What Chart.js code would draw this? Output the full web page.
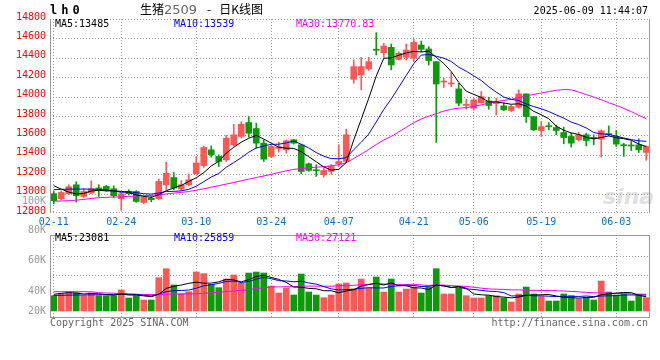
<!DOCTYPE html>
<html>
<head>
<meta charset="utf-8">
<script src="https://cdn.jsdelivr.net/npm/chart.js@4.4.1/dist/chart.umd.min.js"></script>
<style>
  html, body { margin: 0; padding: 0; background: #fff; }
  #wrap { position: relative; width: 660px; height: 360px; overflow: hidden;
          font-family: "DejaVu Sans Mono", monospace; font-size: 10px; }
  #wrap canvas { position: absolute; left: 0; }
  .t { position: absolute; white-space: nowrap; line-height: 12px; }
  .r { text-align: right; }
</style>
</head>
<body>
<div id="wrap">
  <div class="t" style="left:603px;top:184px;font:italic bold 22px 'DejaVu Sans';color:rgba(210,210,210,0.7)">sina</div>

  <canvas id="kChart" width="660" height="231" style="top:0"></canvas>
  <canvas id="volChart" width="660" height="95" style="top:225px"></canvas>

  <div class="t" style="left:50px;top:3px;font:bold 12px 'DejaVu Sans Mono';line-height:14px;letter-spacing:4px">lh0</div>
  <div class="t" style="left:140px;top:2px;font:12px 'Noto Sans CJK SC';line-height:14px">生猪<span style="color:#666;font:13px 'DejaVu Sans'">2509</span><span style="margin:0 8px 0 10px">-</span>日K线图</div>
  <div class="t r" style="right:12px;top:5px">2025-06-09 11:44:07</div>

  <div id="priceMa"></div>
  <div id="volMa"></div>
  <div id="volAxis"></div>

  <div class="t" style="left:50px;top:317px;color:#666">Copyright 2025 SINA.COM</div>
  <div class="t r" style="right:12px;top:317px;color:#666">http://finance.sina.com.cn</div>
</div>

<script>
/* ── data ─────────────────────────────────────────────────────────── */
const dates = ['02-11','02-12','02-13','02-14','02-17','02-18','02-19','02-20','02-21','02-24',
  '02-25','02-26','02-27','02-28','03-03','03-04','03-05','03-06','03-07','03-10',
  '03-11','03-12','03-13','03-14','03-17','03-18','03-19','03-20','03-21','03-24',
  '03-25','03-26','03-27','03-28','03-31','04-01','04-02','04-03','04-07','04-08',
  '04-09','04-10','04-11','04-14','04-15','04-16','04-17','04-18','04-21','04-22',
  '04-23','04-24','04-25','04-28','04-29','04-30','05-06','05-07','05-08','05-09',
  '05-12','05-13','05-14','05-15','05-16','05-19','05-20','05-21','05-22','05-23',
  '05-26','05-27','05-28','05-29','05-30','06-03','06-04','06-05','06-06','06-09'];
const shownDates = ['02-11','02-24','03-10','03-24','04-07','04-21','05-06','05-19','06-03'];

const openP = [12999,12947,12999,13091,12971,13006,13052,13074,13050,12947,
  13022,13022,12909,12955,12947,13091,13166,13047,13091,13204,
  13290,13451,13383,13348,13503,13589,13733,13671,13520,13383,
  13465,13451,13555,13503,13307,13242,13194,13228,13307,13331,
  14178,14223,14285,14483,14453,14508,14384,14405,14395,14532,
  14491,14360,14150,14130,14079,13910,13880,13938,13955,13928,
  13904,13856,13890,14028,13794,13650,13694,13681,13630,13589,
  13554,13606,13573,13561,13613,13589,13498,13495,13503,13424];
const highP = [13022,13025,13091,13122,13050,13132,13091,13085,13080,13005,
  13040,13030,12975,12970,13150,13325,13218,13135,13200,13382,
  13490,13492,13400,13600,13715,13740,13794,13726,13555,13500,
  13530,13555,13560,13510,13315,13297,13263,13300,13503,13664,
  14377,14405,14405,14659,14549,14542,14463,14542,14593,14573,
  14515,14360,14189,14247,14137,13973,13980,14052,13993,13983,
  13932,13914,14069,14028,13794,13743,13733,13705,13685,13623,
  13633,13623,13606,13657,13698,13650,13520,13537,13565,13492];
const lowP = [12893,12935,12990,12913,12960,12999,12971,13025,12960,12827,
  12985,12910,12895,12915,12940,13040,13040,13033,13080,13200,
  13270,13376,13280,13330,13490,13575,13582,13468,13331,13370,
  13427,13417,13510,13204,13230,13177,13170,13200,13280,13320,
  14137,14069,14270,14429,14405,14275,14377,14377,14360,14463,
  14326,13527,14093,14103,13904,13870,13860,13932,13870,13811,
  13856,13846,13880,13733,13650,13589,13657,13606,13513,13479,
  13540,13492,13503,13376,13595,13486,13383,13444,13424,13342];
const closeP = [12927,13012,13071,12978,13022,13050,13048,13040,12978,12999,
  12999,12919,12961,12937,13125,13210,13057,13091,13143,13315,
  13475,13400,13331,13571,13606,13715,13623,13520,13355,13486,
  13483,13544,13520,13228,13239,13236,13239,13280,13331,13606,
  14309,14309,14360,14478,14521,14326,14446,14480,14559,14487,
  14371,14130,14160,14140,13932,13918,13966,14000,13908,13935,
  13863,13897,14028,13794,13657,13691,13689,13650,13578,13520,
  13606,13547,13569,13647,13608,13510,13494,13491,13451,13486];

const ma5 = [13081,13046,13015,12997,13002,13027,13034,13028,13028,13023,
  13013,12987,12971,12963,12988,13030,13058,13084,13125,13163,
  13216,13285,13333,13418,13477,13530,13570,13600,13562,13520,
  13478,13468,13466,13432,13380,13328,13275,13242,13250,13320,
  13553,13767,13983,14212,14395,14399,14426,14450,14466,14460,
  14469,14405,14341,14258,14147,14056,14023,13991,13945,13945,
  13934,13921,13926,13903,13848,13813,13772,13696,13653,13626,
  13609,13580,13564,13578,13595,13576,13566,13550,13511,13485];
const ma10 = [13040,13044,13046,13047,13047,13046,13043,13036,13028,13013,
  13020,13010,12999,12995,13006,13022,13023,13028,13044,13076,
  13123,13171,13208,13272,13320,13370,13427,13470,13491,13508,
  13509,13523,13542,13508,13471,13423,13385,13361,13359,13371,
  13453,13530,13614,13739,13867,13976,14097,14217,14339,14428,
  14434,14416,14396,14362,14303,14262,14214,14166,14101,14046,
  13995,13972,13959,13924,13897,13874,13846,13811,13778,13737,
  13711,13676,13630,13615,13611,13592,13573,13557,13544,13539];
const ma30 = [12922,12924,12927,12932,12940,12950,12958,12961,12964,12967,
  12971,12975,12978,12982,12988,12996,13005,13012,13022,13035,
  13050,13066,13082,13098,13115,13132,13149,13166,13182,13199,
  13217,13235,13250,13258,13266,13272,13278,13286,13298,13318,
  13362,13408,13455,13506,13553,13590,13636,13683,13730,13769,
  13799,13823,13851,13870,13880,13887,13899,13915,13933,13948,
  13961,13972,13989,14008,14022,14037,14052,14065,14073,14070,
  14047,14021,13995,13967,13937,13910,13878,13845,13808,13771];

const volume = [24930,27640,31440,29270,24930,29270,24930,24930,24930,34150,
  21140,24930,17890,17890,54200,68830,42280,28180,31440,63410,
  60700,43360,37940,52030,58540,44990,61790,63410,61790,40650,
  29270,37400,26020,60160,30890,26020,21680,26020,43900,45530,
  35770,52030,37400,55280,30890,52030,30890,35770,39020,29270,
  39020,68830,27640,27640,36860,24930,21140,21140,24930,24930,
  21140,14630,27640,39020,27640,23310,16260,16260,27640,24930,
  19510,21680,17890,48780,30890,26020,27100,16260,27100,21680];
const volMa5 = [27100,28700,29800,29300,27640,28510,27970,26670,25800,27640,
  26020,26020,24610,23200,27210,36750,40220,42280,44990,46830,
  45200,45420,47370,51490,50510,47370,51060,56150,58100,54530,
  51380,46500,39030,38700,36750,36100,32950,32950,29700,32630,
  34580,40650,42930,45200,42270,45530,41300,40970,37720,37400,
  34790,42380,40760,38480,40000,37180,27640,26340,25800,23410,
  22660,21350,22650,25470,26010,26450,26770,24500,22220,21680,
  20920,22000,22330,26560,27750,29050,30140,29810,25470,23081];
const volMa10 = [25500,25500,25800,26000,26000,26200,26500,26800,27000,27640,
  27260,26990,25640,24500,27430,31380,33120,33440,34090,37020,
  40980,42820,44820,48240,48670,46290,48240,51760,54800,52520,
  49380,48780,47590,48400,45640,43740,39730,35990,34200,34690,
  35340,36800,37940,37450,37450,40050,40970,41950,41460,39840,
  40160,41840,40860,38100,38700,35990,35010,33550,32140,31710,
  29920,24500,24500,25640,24710,24550,24060,23580,23850,23850,
  23680,24390,23410,24390,24720,24990,26070,26070,26020,25859];
const volMa30 = [31400,31400,31400,31400,31400,31200,29800,29300,29000,28000,
  27600,27200,27000,26600,27000,27200,27400,27600,27800,28000,
  29000,29600,30400,31600,32600,33600,34800,36400,37800,39060,
  39210,39530,39350,40380,40580,40470,40360,40400,41030,41410,
  41900,42800,43450,44700,43920,43360,42980,43230,43490,42350,
  41630,42470,42130,41320,40600,39930,38570,37160,35930,35410,
  35140,34380,34430,33730,33620,33530,33350,33030,32480,31800,
  31250,30240,29590,29380,29380,28510,28380,27730,27340,27121];

const priceMin = 12800, priceMax = 14800, priceStep = 200;
const volMin = -11400, volMax = 123650;
const volGridValues = [58000, 90000];
const volTickLabels = ['100K', '80K', '60K', '40K', '20K'];
const priceMaText = ['MA5:13485', 'MA10:13539', 'MA30:13770.83'];
const volMaText = ['MA5:23081', 'MA10:25859', 'MA30:27121'];

/* ── styling ──────────────────────────────────────────────────────── */
const UP = '#ff5656';
const DOWN = '#0a9a0a';
const GRID = '#999';
const MA_COLORS = ['#000', '#0000ff', '#ff00ff'];

Chart.defaults.font.family = '"DejaVu Sans Mono", monospace';
Chart.defaults.font.size = 10;

const dirColor = closeP.map((c, i) => (c >= openP[i] ? UP : DOWN));
const noGrid = { display: false, drawTicks: false };

// dotted grid (1px dot every 3px) at the y ticks and the labelled dates
const dotGridPlugin = {
    id: 'dotGrid',
    beforeDatasetsDraw(chart, args, opts) {
        const { ctx, chartArea: a, scales: { x, y } } = chart;
        const l = Math.round(a.left), r = Math.round(a.right);
        const t = Math.round(a.top), b = Math.round(a.bottom);
        ctx.save();
        ctx.fillStyle = opts.color;
        y.ticks.forEach(tk => {
            const py = Math.min(b - 1, Math.round(y.getPixelForValue(tk.value)));
            for (let px = l; px < r; px += 3) ctx.fillRect(px, py, 1, 1);
        });
        dates.forEach((d, i) => {
            if (!shownDates.includes(d)) return;
            const px = Math.floor(x.getPixelForValue(i));
            for (let py = t; py < b; py += 3) ctx.fillRect(px, py, 1, 1);
        });
        ctx.restore();
    }
};

// solid frame lines round the plot area
const framePlugin = {
    id: 'frame',
    afterDatasetsDraw(chart, args, opts) {
        const { ctx, chartArea: a } = chart;
        const l = Math.round(a.left) + 0.5, r = Math.round(a.right) - 0.5;
        const t = Math.round(a.top) + 0.5, b = Math.round(a.bottom) - 0.5;
        ctx.save();
        ctx.strokeStyle = opts.color;
        ctx.lineWidth = 1;
        ctx.beginPath();
        if (opts.sides.includes('left'))   { ctx.moveTo(l, t - 0.5); ctx.lineTo(l, b + 0.5); }
        if (opts.sides.includes('right'))  { ctx.moveTo(r, t - 0.5); ctx.lineTo(r, b + 0.5); }
        if (opts.sides.includes('top'))    { ctx.moveTo(l, t); ctx.lineTo(r, t); }
        if (opts.sides.includes('bottom')) { ctx.moveTo(l, b); ctx.lineTo(r, b); }
        ctx.stroke();
        ctx.restore();
    }
};

const maLine = (data, color) => ({
    type: 'line', data, borderColor: color, borderWidth: 1,
    pointRadius: 0, tension: 0, fill: false, order: 0
});

/* ── K line panel ─────────────────────────────────────────────────── */
new Chart(document.getElementById('kChart'), {
    type: 'bar',
    data: {
        labels: dates,
        datasets: [
            maLine(ma5, MA_COLORS[0]),
            maLine(ma10, MA_COLORS[1]),
            maLine(ma30, MA_COLORS[2]),
            {
                data: openP.map((o, i) => [o, closeP[i]]),
                backgroundColor: dirColor,
                barThickness: 6, minBarLength: 1, grouped: false, order: 1
            },
            {
                data: lowP.map((l, i) => [l, highP[i]]),
                backgroundColor: dirColor,
                barThickness: 1, grouped: false, order: 2
            }
        ]
    },
    options: {
        responsive: false,
        animation: false,
        devicePixelRatio: 1,
        layout: { padding: { top: 19, right: 10, left: 0, bottom: 0 } },
        plugins: {
            legend: { display: false },
            tooltip: { enabled: false },
            dotGrid: { color: GRID },
            frame: { color: GRID, sides: ['left', 'right'] }
        },
        scales: {
            x: {
                offset: true,
                grid: noGrid,
                border: { display: false },
                ticks: {
                    autoSkip: false, maxRotation: 0, padding: 3, color: '#0a6fd0',
                    callback: v => (shownDates.includes(dates[v]) ? dates[v] : '')
                },
                afterFit: s => { s.height = 18; }
            },
            y: {
                min: priceMin, max: priceMax,
                ticks: { stepSize: priceStep, color: '#f00', padding: 4, labelOffset: -2, callback: v => String(v) },
                grid: noGrid,
                border: { display: false },
                afterFit: s => { s.width = 50; }
            }
        }
    },
    plugins: [dotGridPlugin, framePlugin]
});

/* ── volume panel ─────────────────────────────────────────────────── */
new Chart(document.getElementById('volChart'), {
    type: 'bar',
    data: {
        labels: dates,
        datasets: [
            maLine(volMa5, MA_COLORS[0]),
            maLine(volMa10, MA_COLORS[1]),
            maLine(volMa30, MA_COLORS[2]),
            { data: volume, backgroundColor: dirColor, barThickness: 6, order: 1 }
        ]
    },
    options: {
        responsive: false,
        animation: false,
        devicePixelRatio: 1,
        layout: { padding: { top: 10, right: 10, left: 0, bottom: 2 } },
        plugins: {
            legend: { display: false },
            tooltip: { enabled: false },
            dotGrid: { color: GRID },
            frame: { color: GRID, sides: ['left', 'right', 'top', 'bottom'] }
        },
        scales: {
            x: {
                offset: true,
                grid: noGrid,
                border: { display: false },
                ticks: { display: false, autoSkip: false },
                afterFit: s => { s.height = 0; }
            },
            y: {
                min: volMin, max: volMax,
                afterBuildTicks: s => { s.ticks = volGridValues.map(v => ({ value: v })); },
                ticks: { display: false },
                grid: noGrid,
                border: { display: false },
                afterFit: s => { s.width = 50; }
            }
        }
    },
    plugins: [dotGridPlugin, framePlugin]
});

/* ── texts round the panels ───────────────────────────────────────── */
const maLeft = [55, 174, 296];
function putTexts(id, texts, top) {
    document.getElementById(id).innerHTML = texts.map((t, i) =>
        `<div class="t" style="left:${maLeft[i]}px;top:${top}px;color:${MA_COLORS[i]}">${t}</div>`).join('');
}
putTexts('priceMa', priceMaText, 18);
putTexts('volMa', volMaText, 232);

const volLabelTop = [195, 224, 254, 285, 305];
document.getElementById('volAxis').innerHTML = volTickLabels.map((t, i) =>
    `<div class="t r" style="right:614px;top:${volLabelTop[i]}px;color:#999">${t}</div>`).join('');
</script>
</body>
</html>
